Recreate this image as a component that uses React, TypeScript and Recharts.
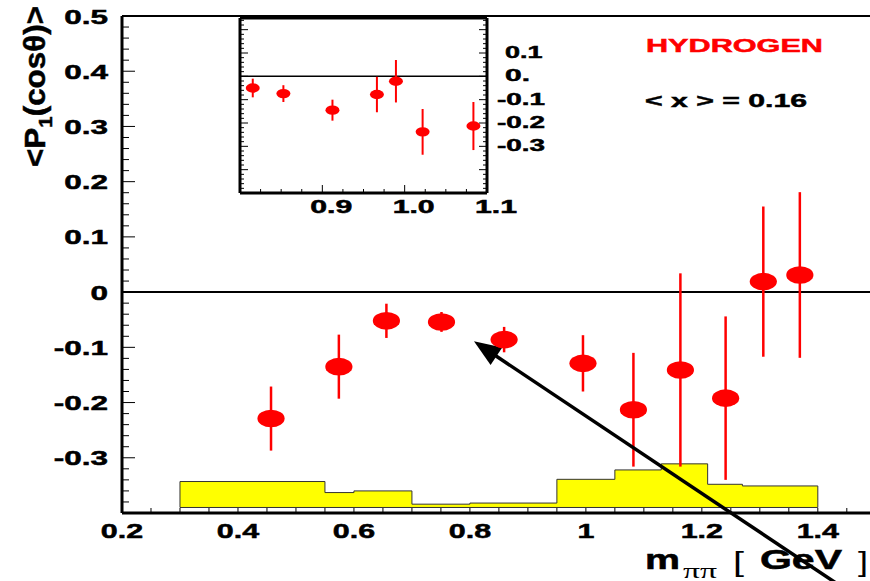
import React from "react";
import { ComposedChart, Scatter, Area, XAxis, YAxis, ErrorBar, ReferenceLine } from "recharts";

const FONT = "'Liberation Sans', Arial, Helvetica, sans-serif";
const RED = "#ff0000";
const INK = "#000";

// main plot: <P1(cos theta)> vs m_pipi
const massMain = [0.457, 0.574, 0.656, 0.751, 0.859, 0.995, 1.082, 1.163, 1.241, 1.306, 1.369];
const p1Main = [-0.229, -0.135, -0.052, -0.054, -0.086, -0.129, -0.213, -0.141, -0.192, 0.019, 0.031];
const errMain = [0.058, 0.058, 0.031, 0.018, 0.023, 0.051, 0.103, 0.175, 0.148, 0.136, 0.15];

// inset: fine binning around the rho/omega region
const massInset = [0.8155, 0.8527, 0.9123, 0.9663, 0.9894, 1.0218, 1.0835];
const p1Inset = [-0.05, -0.074, -0.145, -0.078, -0.021, -0.238, -0.213];
const errInset = [0.04, 0.036, 0.045, 0.076, 0.091, 0.098, 0.103];

// systematic band (yellow histogram)
const histEdges = [0.3, 0.55, 0.6, 0.7, 0.8, 0.95, 1.05, 1.13, 1.21, 1.27, 1.4];
const histTops = [-0.343, -0.363, -0.36, -0.384, -0.382, -0.339, -0.322, -0.311, -0.348, -0.351];
const HIST_BASE = -0.39;

const xLabels = [0.2, 0.4, 0.6, 0.8, 1, 1.2, 1.4];
const yLabels = [0.5, 0.4, 0.3, 0.2, 0.1, 0, -0.1, -0.2, -0.3];
const insetXLabels = [0.9, 1.0, 1.1];
const insetYLabels = [0.1, 0, -0.1, -0.2, -0.3];
const insetYText = ["0.1", "0.", "-0.1", "-0.2", "-0.3"];

const arrowTail = { x: 1.4345, y: -0.529 };
const arrowTip = { x: 0.807, y: -0.089 };

const mainPts = massMain.map((x, i) => ({ x, y: p1Main[i], err: errMain[i] }));
const insetPts = massInset.map((x, i) => ({ x, y: p1Inset[i], err: errInset[i] }));
const last = histTops.length - 1;
const histData = [
  { x: histEdges[0], y: HIST_BASE },
  ...histTops.map((h, i) => ({ x: histEdges[i], y: h })),
  { x: histEdges[last + 1], y: histTops[last] },
  { x: histEdges[last + 1], y: HIST_BASE },
];

const steps = (a: number, b: number, s: number) => {
  const out: number[] = [];
  for (let v = a; v <= b + 1e-9; v += s) out.push(Math.round(v * 10000) / 10000);
  return out;
};
const near = (v: number, list: number[]) => list.findIndex((l) => Math.abs(l - v) < 1e-6);
const isMajor = (v: number, unit: number) => Math.abs(v / unit - Math.round(v / unit)) < 1e-6;

// heavy bold, like the ROOT Helvetica-bold in the reference
const txt = { fontFamily: FONT, fontWeight: 700, fill: INK, stroke: INK, strokeWidth: 0.5 } as const;

function MainXTick({ x, y, payload }: any) {
  const v = payload.value;
  const show = near(v, xLabels) >= 0;
  return (
    <g>
      <line x1={x} y1={y} x2={x} y2={y - 5} stroke={INK} strokeWidth={1} />
      {show && (
        <text {...txt} fontSize={21} textAnchor="middle" transform={`translate(${x},${y + 25}) scale(1.45,1)`}>
          {String(v)}
        </text>
      )}
    </g>
  );
}

function MainYTick({ x, y, payload }: any) {
  const v = payload.value;
  const major = isMajor(v, 0.1);
  const show = near(v, yLabels) >= 0;
  return (
    <g>
      <line x1={x} y1={y} x2={x + (major ? 13 : 7)} y2={y} stroke={INK} strokeWidth={1} />
      {show && (
        <text {...txt} fontSize={21} textAnchor="end" transform={`translate(${x - 14},${y + 7.5}) scale(1.5,1)`}>
          {v === 0 ? "0" : v.toFixed(1)}
        </text>
      )}
    </g>
  );
}

function InsetXTick({ x, y, payload }: any) {
  const v = payload.value;
  const major = isMajor(v, 0.1);
  const show = near(v, insetXLabels) >= 0;
  return (
    <g>
      <line x1={x} y1={y} x2={x} y2={y - (major ? 8 : 4)} stroke={INK} strokeWidth={1} />
      {show && (
        <text {...txt} fontSize={18} textAnchor="middle" x={x + 9} y={y + 20} textLength={42} lengthAdjust="spacingAndGlyphs">
          {v.toFixed(1)}
        </text>
      )}
    </g>
  );
}

function InsetLeftTick({ x, y, payload }: any) {
  const major = isMajor(payload.value, 0.1);
  return <line x1={x} y1={y} x2={x + (major ? 8 : 4)} y2={y} stroke={INK} strokeWidth={1} />;
}

function InsetRightTick({ x, y, payload }: any) {
  const v = payload.value;
  const major = isMajor(v, 0.1);
  const i = near(v, insetYLabels);
  const label = i >= 0 ? insetYText[i] : null;
  return (
    <g>
      <line x1={x} y1={y} x2={x - (major ? 8 : 4)} y2={y} stroke={INK} strokeWidth={1} />
      {label && (
        <text {...txt} fontSize={17} x={x + (v < 0 ? 10 : 18)} y={y + 5} textLength={label.length * 12.5 - (v < 0 ? 2 : 0)} lengthAdjust="spacingAndGlyphs">
          {label}
        </text>
      )}
    </g>
  );
}

const MainDot = ({ cx, cy }: any) => <ellipse cx={cx} cy={cy} rx={13.6} ry={8.8} fill={RED} />;
const InsetDot = ({ cx, cy }: any) => <ellipse cx={cx} cy={cy} rx={7} ry={4.7} fill={RED} />;

function Arrow({ x1, y1, x2, y2 }: any) {
  const dx = x2 - x1;
  const dy = y2 - y1;
  const len = Math.hypot(dx, dy) || 1;
  const ux = dx / len;
  const uy = dy / len;
  const head = 27;
  const half = 10.5;
  const bx = x2 - ux * head;
  const by = y2 - uy * head;
  const pts = `${x2},${y2} ${bx - uy * half},${by + ux * half} ${bx + uy * half},${by - ux * half}`;
  return (
    <g>
      <line x1={x1} y1={y1} x2={bx + ux * 4} y2={by + uy * 4} stroke={INK} strokeWidth={3.5} />
      <polygon points={pts} fill={INK} />
    </g>
  );
}

function Inset() {
  return (
    <ComposedChart width={327} height={215} margin={{ top: 10, right: 0, bottom: 0, left: 0 }}>
      <XAxis
        type="number"
        dataKey="x"
        domain={[0.8, 1.1]}
        allowDataOverflow
        ticks={steps(0.8, 1.1, 0.025)}
        interval={0}
        tickSize={0}
        tickMargin={0}
        height={30}
        axisLine={{ stroke: INK, strokeWidth: 3 }}
        tick={<InsetXTick />}
      />
      <YAxis
        type="number"
        domain={[-0.5, 0.25]}
        allowDataOverflow
        ticks={steps(-0.5, 0.24, 0.02)}
        interval={0}
        tickSize={0}
        tickMargin={0}
        width={10}
        axisLine={{ stroke: INK, strokeWidth: 3 }}
        tick={<InsetLeftTick />}
      />
      <YAxis
        yAxisId="r"
        orientation="right"
        type="number"
        domain={[-0.5, 0.25]}
        allowDataOverflow
        ticks={steps(-0.5, 0.24, 0.02)}
        interval={0}
        tickSize={0}
        tickMargin={0}
        width={70}
        axisLine={{ stroke: INK, strokeWidth: 3 }}
        tick={<InsetRightTick />}
      />
      <ReferenceLine y={0.25} yAxisId="r" stroke={INK} strokeWidth={3} ifOverflow="visible" />
      <ReferenceLine y={0} stroke={INK} strokeWidth={1.5} />
      <Scatter data={insetPts} dataKey="y" shape={InsetDot} isAnimationActive={false}>
        <ErrorBar dataKey="err" direction="y" width={0} stroke={RED} strokeWidth={2} isAnimationActive={false} />
      </Scatter>
    </ComposedChart>
  );
}

export default function App() {
  return (
    <div style={{ position: "absolute", left: 0, top: 0, width: 870, height: 581, background: "#fff", overflow: "hidden" }}>
      <ComposedChart width={870} height={581} margin={{ top: 16, right: 0, bottom: 0, left: 0 }}>
        <XAxis
          type="number"
          dataKey="x"
          domain={[0.2, 1.49]}
          allowDataOverflow
          ticks={steps(0.2, 1.45, 0.05)}
          interval={0}
          tickSize={0}
          tickMargin={0}
          height={68}
          axisLine={{ stroke: INK, strokeWidth: 3 }}
          tick={<MainXTick />}
        />
        <YAxis
          type="number"
          domain={[-0.4, 0.5]}
          allowDataOverflow
          ticks={steps(-0.4, 0.5, 0.02)}
          interval={0}
          tickSize={0}
          tickMargin={0}
          width={122}
          axisLine={{ stroke: INK, strokeWidth: 3 }}
          tick={<MainYTick />}
        />
        <ReferenceLine y={0.5} stroke={INK} strokeWidth={2} ifOverflow="visible" />
        <Area
          data={histData}
          dataKey="y"
          type="stepAfter"
          baseValue={HIST_BASE}
          fill="#ffff00"
          fillOpacity={1}
          stroke="#333"
          strokeWidth={1}
          dot={false}
          activeDot={false}
          isAnimationActive={false}
        />
        <ReferenceLine
          segment={[{ x: histEdges[0], y: HIST_BASE }, { x: histEdges[last + 1], y: HIST_BASE }]}
          stroke="#333"
          strokeWidth={1}
        />
        <ReferenceLine y={0} stroke={INK} strokeWidth={2} />
        <Scatter data={mainPts} dataKey="y" shape={MainDot} isAnimationActive={false}>
          <ErrorBar dataKey="err" direction="y" width={0} stroke={RED} strokeWidth={2.5} isAnimationActive={false} />
        </Scatter>
        <text {...txt} fill={RED} stroke={RED} fontSize={19} x={646} y={52} textLength={177} lengthAdjust="spacingAndGlyphs">
          HYDROGEN
        </text>
        <text {...txt} fontSize={19} x={645} y={107} textLength={162} lengthAdjust="spacingAndGlyphs">
          {"< x > = 0.16"}
        </text>
        <text {...txt} fontSize={29} transform="translate(45,167) rotate(-90)" textLength={161} lengthAdjust="spacingAndGlyphs">
          {"<P"}
          <tspan fontSize={19} dy={7}>1</tspan>
          <tspan dy={-7}>{"(cosθ)>"}</tspan>
        </text>
        <text {...txt} fontSize={27} x={645} y={569} textLength={35} lengthAdjust="spacingAndGlyphs">m</text>
        <text fontFamily="'Liberation Serif', 'Times New Roman', serif" fontSize={20} x={683} y={578} textLength={34} lengthAdjust="spacingAndGlyphs" fill={INK}>
          ππ
        </text>
        <text fontFamily={FONT} fontSize={27} x={733} y={571} textLength={11} lengthAdjust="spacingAndGlyphs" fill={INK}>[</text>
        <text {...txt} fontSize={27} x={760} y={569} textLength={82} lengthAdjust="spacingAndGlyphs">GeV</text>
        <text fontFamily={FONT} fontSize={27} x={858} y={571} textLength={10} lengthAdjust="spacingAndGlyphs" fill={INK}>]</text>
        <ReferenceLine segment={[arrowTail, arrowTip]} ifOverflow="visible" shape={Arrow} />
      </ComposedChart>
      <div style={{ position: "absolute", left: 230, top: 8 }}>
        <Inset />
      </div>
    </div>
  );
}
